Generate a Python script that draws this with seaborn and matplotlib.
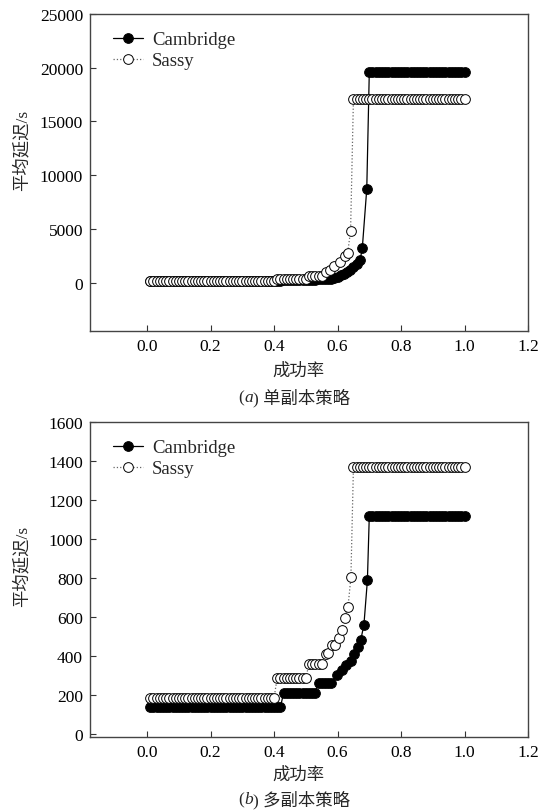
import matplotlib
matplotlib.use("Agg")
import matplotlib.pyplot as plt
import seaborn as sns

# ---------------- data ----------------
x_low40 = [0.01, 0.02, 0.03, 0.04, 0.05, 0.06, 0.07, 0.08, 0.09, 0.10,
           0.11, 0.12, 0.13, 0.14, 0.15, 0.16, 0.17, 0.18, 0.19, 0.20,
           0.21, 0.22, 0.23, 0.24, 0.25, 0.26, 0.27, 0.28, 0.29, 0.30,
           0.31, 0.32, 0.33, 0.34, 0.35, 0.36, 0.37, 0.38, 0.39, 0.40]
x_low42 = x_low40 + [0.41, 0.42]
x_mid_s1 = [0.41, 0.42, 0.43, 0.44, 0.45, 0.46, 0.47, 0.48, 0.49, 0.50]
x_mid_s2 = [0.51, 0.52, 0.53, 0.54, 0.55]
x_mid_c1 = [0.43, 0.44, 0.45, 0.46, 0.47, 0.48, 0.49, 0.50, 0.51, 0.52, 0.53]
x_mid_c2 = [0.54, 0.55, 0.56, 0.57, 0.58]
x_flat_s = [0.65, 0.66, 0.67, 0.68, 0.69, 0.70, 0.71, 0.72, 0.73, 0.74,
            0.75, 0.76, 0.77, 0.78, 0.79, 0.80, 0.81, 0.82, 0.83, 0.84,
            0.85, 0.86, 0.87, 0.88, 0.89, 0.90, 0.91, 0.92, 0.93, 0.94,
            0.95, 0.96, 0.97, 0.98, 0.99, 1.00]
x_flat_c = [0.70, 0.71, 0.72, 0.73, 0.74, 0.75, 0.76, 0.77, 0.78, 0.79,
            0.80, 0.81, 0.82, 0.83, 0.84, 0.85, 0.86, 0.87, 0.88, 0.89,
            0.90, 0.91, 0.92, 0.93, 0.94, 0.95, 0.96, 0.97, 0.98, 0.99, 1.00]

# (a) single-copy strategy
cam_a_rise_x = [0.59, 0.60, 0.61, 0.62, 0.63, 0.64, 0.65, 0.66, 0.671, 0.678, 0.692]
cam_a_rise_y = [450, 560, 680, 820, 980, 1180, 1420, 1700, 2080, 3240, 8720]
cam_a_x = x_low42 + x_mid_c1 + x_mid_c2 + cam_a_rise_x + x_flat_c
cam_a_y = [140] * 42 + [250] * 11 + [360] * 5 + cam_a_rise_y + [19630] * 31

sas_a_rise_x = [0.565, 0.576, 0.59, 0.608, 0.623, 0.632, 0.641]
sas_a_rise_y = [1000, 1210, 1520, 1960, 2520, 2800, 4830]
sas_a_x = x_low40 + x_mid_s1 + x_mid_s2 + sas_a_rise_x + x_flat_s
sas_a_y = [180] * 40 + [370] * 10 + [590] * 5 + sas_a_rise_y + [17130] * 36

# (b) multi-copy strategy
cam_b_rise_x = [0.597, 0.613, 0.626, 0.641, 0.652, 0.663, 0.673, 0.683, 0.694]
cam_b_rise_y = [304, 331, 352, 377, 408, 445, 482, 560, 788]
cam_b_x = x_low42 + x_mid_c1 + x_mid_c2 + cam_b_rise_x + x_flat_c
cam_b_y = [137] * 42 + [213] * 11 + [263] * 5 + cam_b_rise_y + [1120] * 31

sas_b_rise_x = [0.563, 0.571, 0.581, 0.592, 0.604, 0.613, 0.623, 0.633, 0.642]
sas_b_rise_y = [408, 414, 456, 456, 495, 534, 597, 654, 803]
sas_b_x = x_low40 + x_mid_s1 + x_mid_s2 + sas_b_rise_x + x_flat_s
sas_b_y = [187] * 40 + [290] * 10 + [357] * 5 + sas_b_rise_y + [1368] * 36

x_ticks = [0.0, 0.2, 0.4, 0.6, 0.8, 1.0, 1.2]
x_tick_labels = ["0.0", "0.2", "0.4", "0.6", "0.8", "1.0", "1.2"]
y_ticks_a = [0, 5000, 10000, 15000, 20000, 25000]
y_ticks_b = [0, 200, 400, 600, 800, 1000, 1200, 1400, 1600]

# ---------------- style ----------------
sns.set_theme(style="ticks")
plt.rcParams["font.family"] = ["Liberation Serif", "Noto Sans CJK SC"]
plt.rcParams["axes.unicode_minus"] = False

W, H = 542, 812
fig = plt.figure(figsize=(W / 100, H / 100), dpi=100)
ax1 = fig.add_axes([90 / W, 1 - 332 / H, 438 / W, 317 / H])
ax2 = fig.add_axes([90 / W, 1 - 738 / H, 438 / W, 315 / H])

FS = 12.5
LFS = 13.5


def draw(ax, cx, cy, sx, sy, yticks, ylim):
    sns.lineplot(x=cx, y=cy, ax=ax, color="black", linewidth=0.9,
                 marker="o", markersize=7.0, markerfacecolor="black",
                 markeredgecolor="black", markeredgewidth=0.7,
                 sort=False, estimator=None, label="Cambridge")
    sns.lineplot(x=sx, y=sy, ax=ax, color="#666666", linewidth=0.9,
                 linestyle=":", marker="o", markersize=7.0,
                 markerfacecolor="white", markeredgecolor="black",
                 markeredgewidth=0.7, sort=False, estimator=None,
                 label="Sassy")
    ax.set_xlim(-0.18, 1.2)
    ax.set_xticks(x_ticks)
    ax.set_xticklabels(x_tick_labels)
    ax.set_ylim(*ylim)
    ax.set_yticks(yticks)
    ax.set_yticklabels([str(v) for v in yticks])
    ax.set_xlabel("")
    ax.set_ylabel("")
    ax.tick_params(direction="in", length=4, width=0.8, colors="#333333",
                   labelcolor="black", labelsize=FS, pad=5)
    for sp in ax.spines.values():
        sp.set_color("#444444")
        sp.set_linewidth(1.0)
    ax.grid(False)
    leg = ax.legend(frameon=False, loc="upper left",
                    bbox_to_anchor=(0.045, 0.958), handlelength=1.6,
                    labelspacing=0.22, fontsize=LFS, handletextpad=0.45,
                    borderaxespad=0.0, borderpad=0.2)
    return leg


draw(ax1, cam_a_x, cam_a_y, sas_a_x, sas_a_y, y_ticks_a, (-4500, 25000))
draw(ax2, cam_b_x, cam_b_y, sas_b_x, sas_b_y, y_ticks_b, (-15, 1600))

# axis titles
fig.text(298 / W, 1 - 372 / H, "成功率", ha="center", va="center", fontsize=FS)
fig.text(298 / W, 1 - 776 / H, "成功率", ha="center", va="center", fontsize=FS)
fig.text(22 / W, 1 - 150 / H, "平均延迟/s", rotation=90, ha="center",
         va="center", fontsize=FS)
fig.text(22 / W, 1 - 566 / H, "平均延迟/s", rotation=90, ha="center",
         va="center", fontsize=FS)

# captions with italic letters
renderer = fig.canvas.get_renderer()


def caption(cx_px, cy_px, letter, rest):
    parts = [("(", "normal"), (letter, "italic"), (") " + rest, "normal")]
    texts = [fig.text(0, 1 - cy_px / H, s, style=st, fontsize=FS,
                      va="center", ha="left") for s, st in parts]
    widths = [t.get_window_extent(renderer).width for t in texts]
    x = cx_px - sum(widths) / 2
    for t, w in zip(texts, widths):
        t.set_x(x / W)
        x += w


caption(294, 398, "a", "单副本策略")
caption(294, 800, "b", "多副本策略")

fig.savefig("out.png", dpi=100)
